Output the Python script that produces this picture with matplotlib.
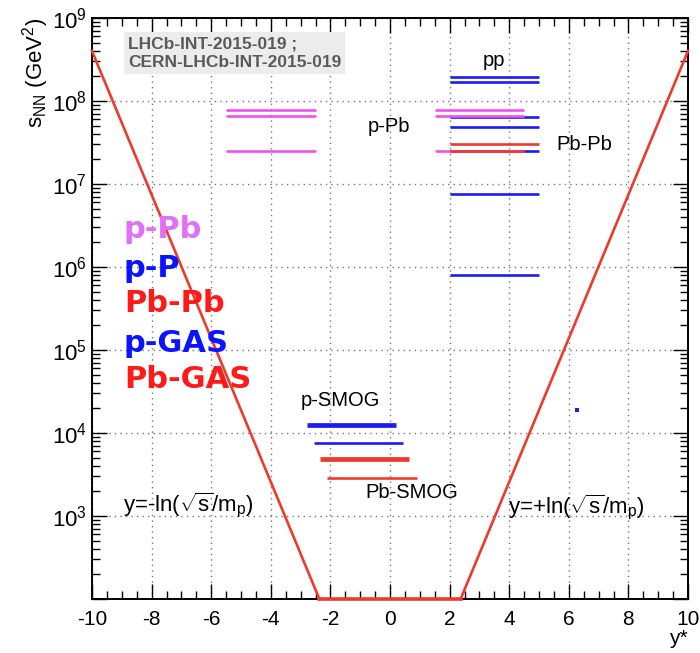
import numpy as np
import matplotlib
matplotlib.use("Agg")
import matplotlib.pyplot as plt
from matplotlib.ticker import MultipleLocator, LogLocator, NullFormatter, FuncFormatter

plt.rcParams['font.family'] = ['Liberation Sans', 'DejaVu Sans']
plt.rcParams['mathtext.fontset'] = 'custom'
plt.rcParams['mathtext.rm'] = 'Liberation Sans'
plt.rcParams['mathtext.it'] = 'Liberation Sans:italic'
plt.rcParams['axes.unicode_minus'] = False

# rapidity limits y = +-ln(sqrt(s)/m_p), straight in log(s)
edge_y_left = [-10.0, -2.37]
edge_s_left = [4.0e8, 1e2]
edge_y_right = [2.37, 10.0]
edge_s_right = [1e2, 4.0e8]
floor_y = [-2.37, 2.37]
floor_s = [1e2, 1e2]

# collider running, s_NN in GeV^2
pp_s = [1.95e8, 1.69e8, 6.5e7, 4.9e7, 2.5e7, 7.6e6, 8.1e5]
pp_range = (2.0, 5.0)

pPb_s = [7.8e7, 6.6e7, 2.5e7]
pPb_fwd = (1.5, 4.5)
pPb_bwd = (-5.5, -2.5)

PbPb_s = [3.0e7, 2.52e7]
PbPb_lo = [2.0, 2.0]
PbPb_hi = [5.0, 4.5]

# fixed target (SMOG)
pgas_s = [1.26e4, 7.6e3]
pgas_lo = [-2.8, -2.55]
pgas_hi = [0.2, 0.45]
pgas_lw = [3.4, 1.9]

Pbgas_s = [4.9e3, 2.9e3]
Pbgas_lo = [-2.35, -2.1]
Pbgas_hi = [0.65, 0.9]
Pbgas_lw = [3.4, 1.9]

stray_x, stray_s = [6.28], [1.9e4]

RED = '#ee3a2e'
BLUE = '#1c1cf0'
MAG = '#f050f0'

fig = plt.figure(figsize=(7.0, 6.53), dpi=100)
ax = fig.add_axes([92/700, 1 - 599/653, 596/700, 581/653])
ax.set_yscale('log')
ax.set_xlim(-10, 10)
ax.set_ylim(1e2, 1e9)

ax.plot(edge_y_left, edge_s_left, color=RED, lw=1.9, clip_on=False, zorder=3)
ax.plot(edge_y_right, edge_s_right, color=RED, lw=1.9, clip_on=False, zorder=3)
ax.plot(floor_y, floor_s, color=RED, lw=2.6, clip_on=False, zorder=3)

ax.hlines(pp_s, pp_range[0], pp_range[1], color=BLUE, lw=1.9, zorder=4)
ax.hlines(pPb_s, pPb_fwd[0], pPb_fwd[1], color=MAG, lw=1.9, zorder=5)
ax.hlines(pPb_s, pPb_bwd[0], pPb_bwd[1], color=MAG, lw=1.9, zorder=5)
ax.hlines(PbPb_s, PbPb_lo, PbPb_hi, color=RED, lw=1.9, zorder=6)

for s, lo, hi, lw in zip(pgas_s, pgas_lo, pgas_hi, pgas_lw):
    ax.hlines(s, lo, hi, color=BLUE, lw=lw, zorder=4)
for s, lo, hi, lw in zip(Pbgas_s, Pbgas_lo, Pbgas_hi, Pbgas_lw):
    ax.hlines(s, lo, hi, color=RED, lw=lw, zorder=4)
ax.plot(stray_x, stray_s, 's', color=BLUE, ms=2.5, mew=0)

# ROOT-like frame
def decade_label(v, pos):
    e = int(round(np.log10(v)))
    return '' if e <= 2 else r'$10^{%d}$' % e

ax.xaxis.set_major_locator(MultipleLocator(2))
ax.xaxis.set_minor_locator(MultipleLocator(0.5))
ax.yaxis.set_major_locator(LogLocator(base=10, numticks=20))
ax.yaxis.set_major_formatter(FuncFormatter(decade_label))
ax.yaxis.set_minor_locator(LogLocator(base=10, subs=np.arange(2, 10), numticks=20))
ax.yaxis.set_minor_formatter(NullFormatter())
ax.tick_params(which='both', direction='in', top=True, right=True, labelsize=15, width=1.0)
ax.tick_params(axis='y', labelsize=16)
ax.tick_params(which='major', length=11)
ax.tick_params(which='minor', length=5.5)
ax.tick_params(axis='x', pad=8)
for sp in ax.spines.values():
    sp.set_linewidth(1.4)
ax.grid(True, which='major', color='#777777', linestyle=(0, (1, 3)), linewidth=1.0)

ax.set_xlabel('y*', loc='right', fontsize=15, labelpad=0)
ax.set_ylabel(r'$\mathrm{s_{NN}}$ (GeV$^{2}$)', loc='top', fontsize=16, labelpad=1)

def ftext(px, py, s, **kw):
    fig.text(px/700, 1 - py/653, s, **kw)

ftext(128, 53, 'LHCb-INT-2015-019 ;\nCERN-LHCb-INT-2015-019', fontsize=12.5,
      fontweight='bold', color='#5a5a5a', va='center', ha='left', linespacing=1.3,
      bbox=dict(facecolor='#ececec', edgecolor='none', pad=3))

ftext(494, 60, 'pp', fontsize=14.5, ha='center', va='center')
ftext(389, 127, 'p-Pb', fontsize=14.5, ha='center', va='center')
ftext(584, 144, 'Pb-Pb', fontsize=14.5, ha='center', va='center')
ftext(340, 400, 'p-SMOG', fontsize=14.5, ha='center', va='center')
ftext(412, 493, 'Pb-SMOG', fontsize=14.5, ha='center', va='center')
ftext(123, 505, r'y=-ln($\sqrt{\mathrm{s}}$/m$_{\mathrm{p}}$)', fontsize=16, ha='left', va='center')
ftext(508, 507, r'y=+ln($\sqrt{\mathrm{s}}$/m$_{\mathrm{p}}$)', fontsize=16, ha='left', va='center')

legend_txt = ['p-Pb', 'p-P', 'Pb-Pb', 'p-GAS', 'Pb-GAS']
legend_col = ['#e070f8', '#0a14ff', '#ff1a1a', '#0a14ff', '#ff1a1a']
legend_py = [229, 268, 303, 344, 379]
for t, c, py in zip(legend_txt, legend_col, legend_py):
    ftext(124, py, t, fontsize=22, fontweight='bold', color=c, ha='left', va='center',
          family=['DejaVu Sans'])

fig.savefig('out.png', dpi=100)
